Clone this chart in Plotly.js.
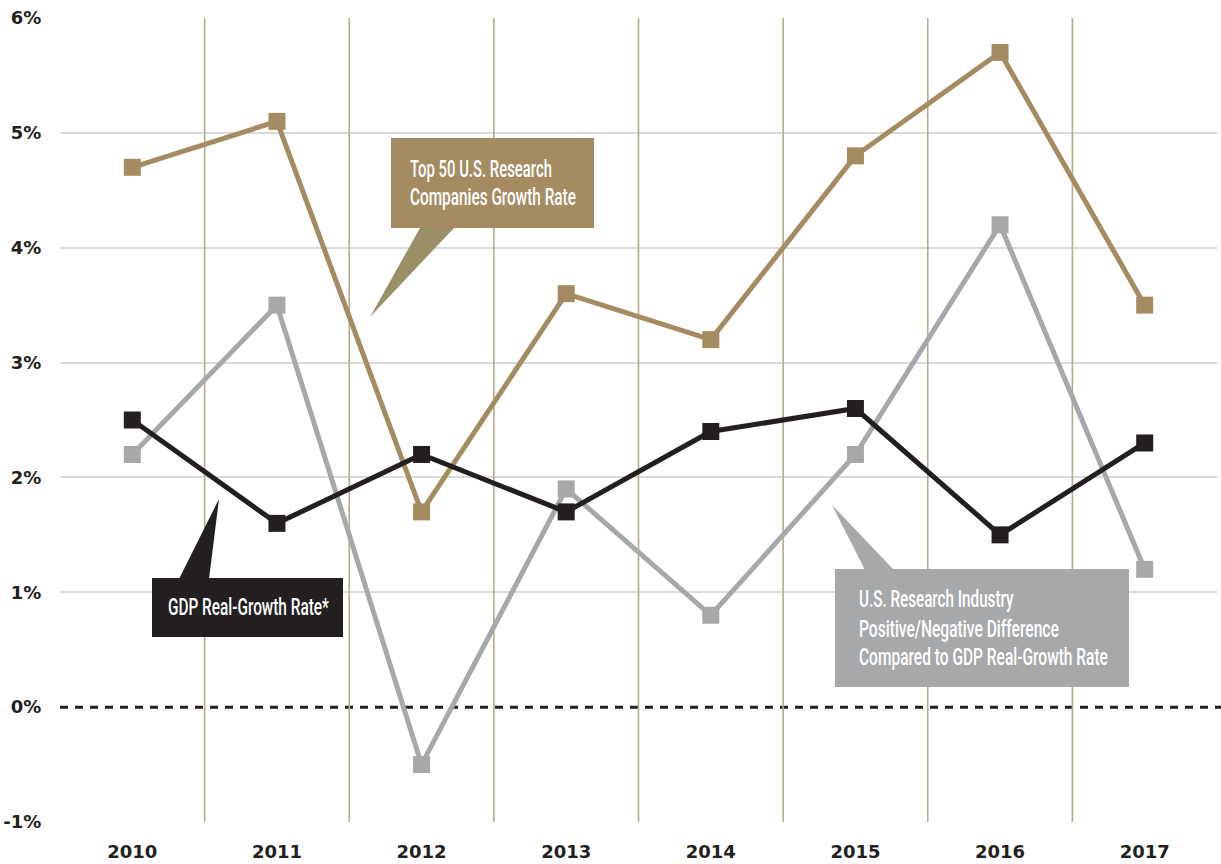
<!DOCTYPE html>
<html>
<head>
<meta charset="utf-8">
<script src="https://cdn.plot.ly/plotly-3.0.1.min.js"></script>
<style>
html,body{margin:0;padding:0;background:#fff;}
#chart{width:1221px;height:864px;}
</style>
</head>
<body>
<div id="chart"></div>
<script>
const years = ['2010','2011','2012','2013','2014','2015','2016','2017'];
const top50Growth = [4.7, 5.1, 1.7, 3.6, 3.2, 4.8, 5.7, 3.5];
const gdpGrowth = [2.5, 1.6, 2.2, 1.7, 2.4, 2.6, 1.5, 2.3];
const industryDiff = [2.2, 3.5, -0.5, 1.9, 0.8, 2.2, 4.2, 1.2];
const yGridVals = [-1, 1, 2, 3, 4, 5, 6];
const yGridText = ['-1%', '1%', '2%', '3%', '4%', '5%', '6%'];
const yZeroVals = [0];
const yZeroText = ['0%'];
const top50Label = ['Top 50 U.S. Research', 'Companies Growth Rate'];
const gdpLabel = ['GDP Real-Growth Rate*'];
const diffLabel = ['U.S. Research Industry', 'Positive/Negative Difference', 'Compared to GDP Real-Growth Rate'];

const TAN = '#a58b62';
const GRAY = '#a7a8aa';
const BLACK = '#231f20';

// plot area in pixels
const L = 60, R = 1217, T = 18, B = 822;
const px = x => (x - L) / (R - L);
const py = y => (B - y) / (B - T);

function series(y, color, name, yaxis) {
  return {
    x: years, y: y, name: name, type: 'scatter', mode: 'lines+markers', yaxis: yaxis,
    line: {color: color, width: 5},
    marker: {symbol: 'square', size: 17, color: color},
    hoverinfo: 'x+y'
  };
}

const data = [
  series(industryDiff, GRAY, diffLabel.join(' '), 'y'),
  series(top50Growth, TAN, top50Label.join(' '), 'y'),
  series(gdpGrowth, BLACK, gdpLabel.join(' '), 'y2')
];

const shapes = [];
// vertical separators between years
for (let i = 0; i < years.length - 1; i++) {
  shapes.push({type: 'line', xref: 'x', yref: 'y', x0: i + 0.5, x1: i + 0.5, y0: -1, y1: 6,
    line: {color: '#b5aa8c', width: 1.6}, layer: 'between'});
}
// dashed zero line (below the data lines)
shapes.push({type: 'line', xref: 'paper', yref: 'y', x0: 0, x1: px(1221), y0: 0, y1: 0,
  line: {color: BLACK, width: 3, dash: '8px,7px'}, layer: 'between'});

function rect(x0, y0, x1, y1, color) {
  shapes.push({type: 'rect', xref: 'paper', yref: 'paper', x0: px(x0), x1: px(x1), y0: py(y1), y1: py(y0),
    fillcolor: color, line: {width: 0}, layer: 'above'});
}
function tri(pts, color) {
  const path = 'M ' + pts.map(p => px(p[0]) + ',' + py(p[1])).join(' L ') + ' Z';
  shapes.push({type: 'path', xref: 'paper', yref: 'paper', path: path,
    fillcolor: color, line: {width: 0}, layer: 'above'});
}
// tan callout
rect(391, 138, 594, 228, TAN);
tri([[420, 228], [454, 228], [370, 317]], '#9b8f68');
// black callout
rect(152, 578, 343, 637, BLACK);
tri([[179, 579], [209, 579], [219, 499]], BLACK);
// gray callout
rect(835, 569, 1129, 687, GRAY);
tri([[865, 570], [894, 570], [832, 505]], GRAY);

const calloutFont = {family: 'Roboto, "Noto Sans", sans-serif', size: 23, color: '#ffffff', weight: 500};

// each callout line: text, left x (px), vertical centre (px), target width (px)
const lineSpecs = [
  [top50Label[0], 408, 169, 142],
  [top50Label[1], 408, 198, 166],
  [gdpLabel[0], 166, 607, 161],
  [diffLabel[0], 857, 599, 155],
  [diffLabel[1], 857, 629, 200],
  [diffLabel[2], 857, 657, 249]
];

const annotations = lineSpecs.map(s => ({
  xref: 'paper', yref: 'paper', x: px(s[1]), y: py(s[2]), xanchor: 'left', yanchor: 'middle',
  showarrow: false, align: 'left', text: s[0], font: calloutFont
}));

const tickFont = {family: '"DejaVu Sans", sans-serif', size: 18, color: BLACK, weight: 'bold'};

const layout = {
  width: 1221, height: 864,
  margin: {l: L, r: 1221 - R, t: T, b: 864 - B, pad: 0},
  paper_bgcolor: '#ffffff', plot_bgcolor: '#ffffff',
  showlegend: false,
  xaxis: {
    type: 'category', range: [-0.5, 7.5], showgrid: false, zeroline: false, showline: false,
    ticks: 'outside', ticklen: 13, tickcolor: 'rgba(0,0,0,0)', tickfont: tickFont, fixedrange: true
  },
  yaxis: {
    range: [-1, 6], tickvals: yGridVals, ticktext: yGridText, showgrid: true, gridcolor: '#dadada', gridwidth: 2,
    zeroline: false, showline: false, ticks: 'outside', ticklen: 14, tickcolor: 'rgba(0,0,0,0)',
    tickfont: tickFont, fixedrange: true
  },
  yaxis2: {
    overlaying: 'y', side: 'left', range: [-1, 6], tickvals: yZeroVals, ticktext: yZeroText, showgrid: false,
    zeroline: false, showline: false, ticks: 'outside', ticklen: 14, tickcolor: 'rgba(0,0,0,0)',
    tickfont: tickFont, fixedrange: true
  },
  shapes: shapes,
  annotations: annotations
};

Plotly.newPlot('chart', data, layout, {displayModeBar: false, staticPlot: true}).then(gd => {
  // condense the callout lettering horizontally to match the narrow typeface
  const texts = gd.querySelectorAll('.annotation');
  texts.forEach(g => {
    const idx = +g.getAttribute('data-index');
    const spec = lineSpecs[idx];
    const t = g.querySelector('text.annotation-text');
    if (!spec || !t) return;
    const bb = t.getBBox();
    if (!bb.width) return;
    const s = spec[3] / bb.width;
    const x0 = bb.x;
    t.setAttribute('transform', 'translate(' + (x0 * (1 - s)) + ',0) scale(' + s + ',1)');
  });
});
</script>
</body>
</html>
